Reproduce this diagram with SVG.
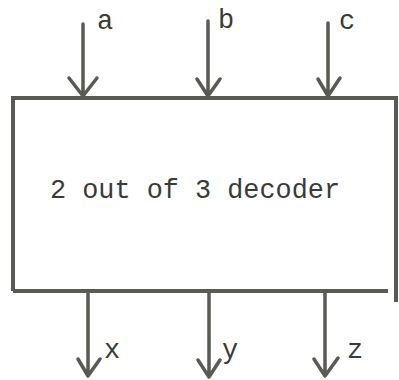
<svg xmlns="http://www.w3.org/2000/svg" width="399" height="380" viewBox="0 0 399 380">
<style>
.ln{stroke:#5a5a55;stroke-width:3.5;fill:none;stroke-linecap:round;stroke-linejoin:round}
.bx{stroke:#5a5a55;stroke-width:4;fill:none}
.t{font-family:"Liberation Mono","DejaVu Sans Mono",monospace;font-size:27px;fill:#3a3a36}
</style>
<rect width="399" height="380" fill="#ffffff"/>
<g id="decoder">
<path class="bx" d="M13,291 V98 H396 M396,96 V302 M13,291 H388"/>
<text class="t" x="50" y="198" textLength="290" lengthAdjust="spacingAndGlyphs">2 out of 3 decoder</text>
</g>
<g id="connectors">
<path class="ln" d="M83,24 V97 M69,78 L83,96 L97,78"/>
<path class="ln" d="M208,21 V97 M197,79 L208,96 L220,79"/>
<path class="ln" d="M328,23 V97 M318,79 L328,96 L340,78"/>
<path class="ln" d="M88,292 V375 M78,359 L88,376 L100,359"/>
<path class="ln" d="M209,292 V376 M198,360 L209,377 L220,360"/>
<path class="ln" d="M325,292 V375 M314,359 L325,376 L338,358"/>
</g>
<g id="labels">
<text class="t" x="97" y="29">a</text>
<text class="t" x="218" y="28">b</text>
<text class="t" x="339" y="29">c</text>
<text class="t" x="104" y="358">x</text>
<text class="t" x="222" y="358">y</text>
<text class="t" x="347" y="358">z</text>
</g>
</svg>
